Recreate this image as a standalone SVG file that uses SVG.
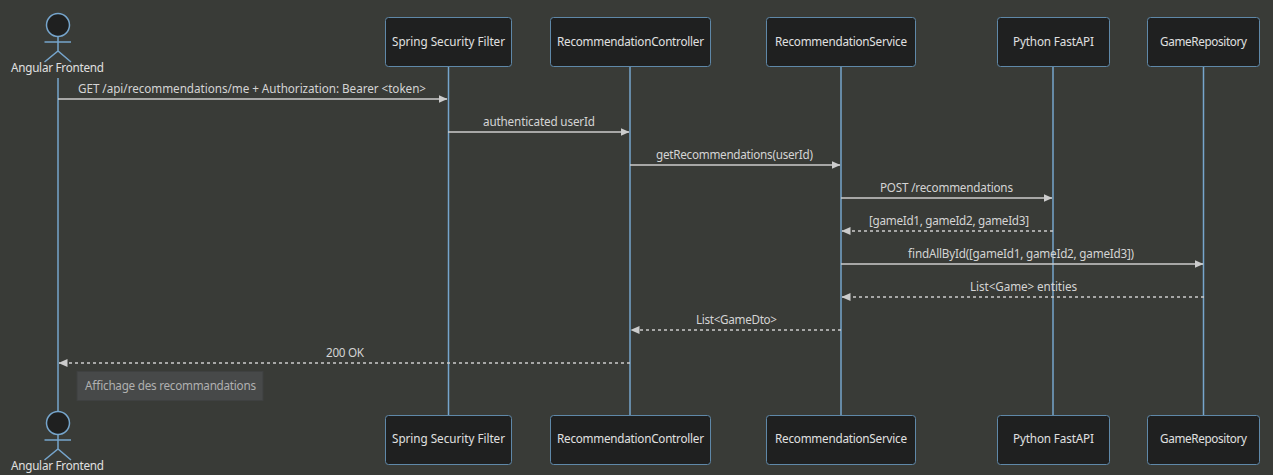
<svg xmlns="http://www.w3.org/2000/svg" width="1273" height="475" viewBox="0 0 1273 475">
<style>
text{font-family:"Noto Sans","Open Sans","DejaVu Sans",sans-serif;font-size:11.7px;text-anchor:middle;fill:#ccc}
.lab{fill:#d4d4d4}
.box{fill:#1f2020;stroke:#5f88a8;stroke-width:1}
.nt{fill:#e0e0e0}
.life{stroke:#76a5cc;stroke-width:1.5;fill:none}
.act{fill:#1f2020;stroke:#76a5cc;stroke-width:1.5}
.msg{stroke:#ccc;stroke-width:1.4;fill:none;marker-end:url(#a)}
.ret{stroke-dasharray:3 3}
.note{fill:#474949;stroke:#3f4141}
.ntx{fill:#b0b0b0}
</style>
<defs><marker id="a" markerWidth="9" markerHeight="8" refX="8.500" refY="4" orient="auto" markerUnits="userSpaceOnUse"><path d="M0 0L9 4L0 8z" fill="#ccc"/></marker></defs>
<rect width="1273" height="475" fill="#393b37"/>
<g id="lifelines">
<path class="life" d="M58 78V411M448.500 66V415M630 66V415M841 66V415M1053 66V415M1203.500 66V415"/>
</g>
<g id="connectors">
<path class="msg" d="M58 99H447"/><path class="msg" d="M448 132H629"/><path class="msg" d="M630 165H840"/><path class="msg" d="M841 198H1052"/>
<path class="msg ret" d="M1053 231H842"/><path class="msg" d="M841 264H1203"/><path class="msg ret" d="M1204 297H842"/><path class="msg ret" d="M841 330H631"/><path class="msg ret" d="M630 363H59"/>
<text class="lab" x="252" y="93" textLength="348">GET /api/recommendations/me + Authorization: Bearer &lt;token&gt;</text>
<text class="lab" x="539" y="126" textLength="112">authenticated userId</text>
<text class="lab" x="734.500" y="159" textLength="157">getRecommendations(userId)</text>
<text class="lab" x="946.500" y="192" textLength="133">POST /recommendations</text>
<text class="lab" x="949" y="225" textLength="160">[gameId1, gameId2, gameId3]</text>
<text class="lab" x="1021" y="258" textLength="226">findAllById([gameId1, gameId2, gameId3])</text>
<text class="lab" x="1023.500" y="291" textLength="107">List&lt;Game&gt; entities</text>
<text class="lab" x="736.500" y="324" textLength="81">List&lt;GameDto&gt;</text>
<text class="lab" x="345" y="357" textLength="38">200 OK</text>
</g>
<g id="actor-top"><circle class="act" cx="58" cy="25" r="11.500"/><path class="life" d="M58 37V52M44.500 42H71M44.500 62L58 51L71 62"/><text class="nt" x="57.500" y="72" textLength="93">Angular Frontend</text></g>
<g id="actor-bottom"><circle class="act" cx="58" cy="423" r="11.500"/><path class="life" d="M58 435V450M44.500 440H71M44.500 460L58 449L71 460"/><text class="nt" x="57.500" y="470" textLength="93">Angular Frontend</text></g>
<g id="p1-top"><rect class="box" x="385.500" y="17.500" width="126" height="49" rx="3"/><text class="nt" x="448.500" y="46" textLength="113">Spring Security Filter</text></g>
<g id="p2-top"><rect class="box" x="550.500" y="17.500" width="160" height="49" rx="3"/><text class="nt" x="630.500" y="46" textLength="147">RecommendationController</text></g>
<g id="p3-top"><rect class="box" x="766.500" y="17.500" width="149" height="49" rx="3"/><text class="nt" x="841" y="46" textLength="132">RecommendationService</text></g>
<g id="p4-top"><rect class="box" x="997.500" y="17.500" width="112" height="49" rx="3"/><text class="nt" x="1053.500" y="46" textLength="81">Python FastAPI</text></g>
<g id="p5-top"><rect class="box" x="1147.500" y="17.500" width="112" height="49" rx="3"/><text class="nt" x="1203.500" y="46" textLength="87">GameRepository</text></g>
<g id="p1-bottom"><rect class="box" x="385.500" y="415.500" width="126" height="49" rx="3"/><text class="nt" x="448.500" y="443" textLength="113">Spring Security Filter</text></g>
<g id="p2-bottom"><rect class="box" x="550.500" y="415.500" width="160" height="49" rx="3"/><text class="nt" x="630.500" y="443" textLength="147">RecommendationController</text></g>
<g id="p3-bottom"><rect class="box" x="766.500" y="415.500" width="149" height="49" rx="3"/><text class="nt" x="841" y="443" textLength="132">RecommendationService</text></g>
<g id="p4-bottom"><rect class="box" x="997.500" y="415.500" width="112" height="49" rx="3"/><text class="nt" x="1053.500" y="443" textLength="81">Python FastAPI</text></g>
<g id="p5-bottom"><rect class="box" x="1147.500" y="415.500" width="112" height="49" rx="3"/><text class="nt" x="1203.500" y="443" textLength="87">GameRepository</text></g>
<g id="note"><rect class="note" x="77" y="371.500" width="186" height="29"/><text class="ntx" x="170.500" y="390" textLength="171">Affichage des recommandations</text></g>
</svg>
